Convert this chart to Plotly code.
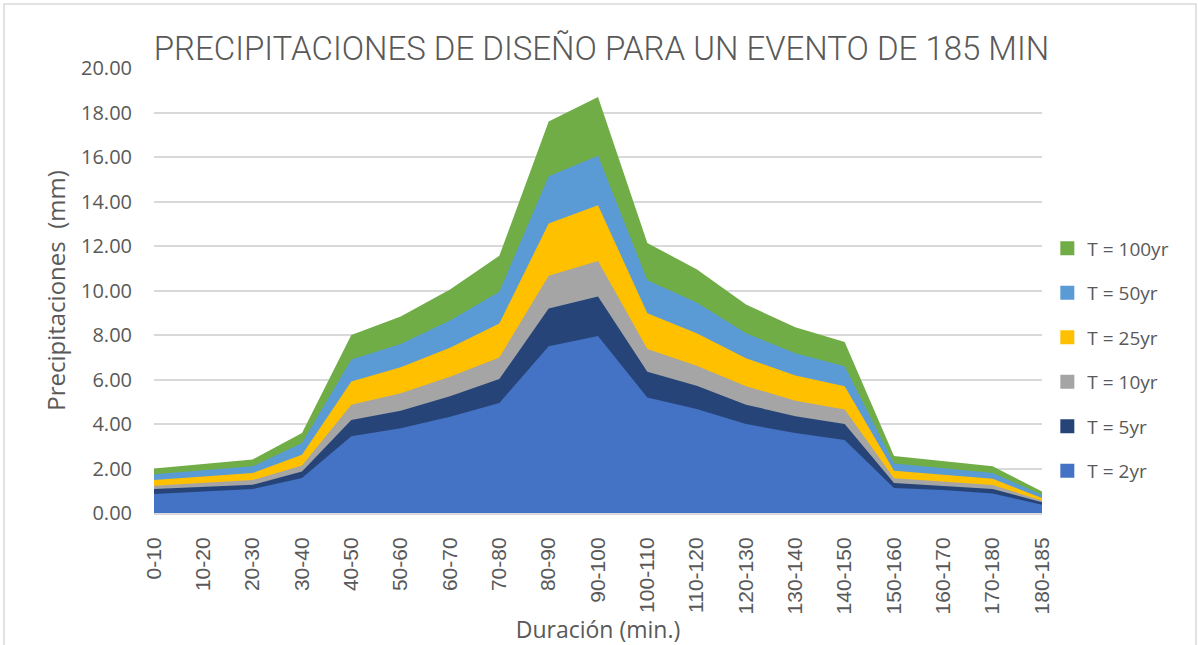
import plotly.graph_objects as go

categories = ["0-10", "10-20", "20-30", "30-40", "40-50", "50-60", "60-70", "70-80",
              "80-90", "90-100", "100-110", "110-120", "120-130", "130-140", "140-150",
              "150-160", "160-170", "170-180", "180-185"]

t2 = [0.85, 0.97, 1.08, 1.57, 3.45, 3.81, 4.33, 4.94, 7.49, 7.96, 5.19, 4.67, 4.00, 3.60, 3.28, 1.12, 1.03, 0.88, 0.37]
t5 = [1.08, 1.18, 1.27, 1.87, 4.18, 4.60, 5.25, 6.02, 9.19, 9.73, 6.35, 5.72, 4.87, 4.35, 4.00, 1.35, 1.21, 1.08, 0.48]
t10 = [1.23, 1.36, 1.48, 2.13, 4.87, 5.38, 6.12, 6.99, 10.66, 11.33, 7.37, 6.62, 5.70, 5.05, 4.65, 1.56, 1.41, 1.26, 0.55]
t25 = [1.48, 1.64, 1.80, 2.62, 5.91, 6.55, 7.43, 8.52, 13.01, 13.83, 8.98, 8.08, 6.96, 6.18, 5.70, 1.90, 1.72, 1.54, 0.67]
t50 = [1.74, 1.92, 2.10, 3.15, 6.90, 7.59, 8.65, 9.94, 15.13, 16.06, 10.46, 9.46, 8.08, 7.18, 6.60, 2.23, 2.02, 1.80, 0.81]
t100 = [2.00, 2.20, 2.41, 3.60, 8.00, 8.83, 10.05, 11.56, 17.59, 18.70, 12.13, 10.96, 9.37, 8.35, 7.68, 2.56, 2.32, 2.10, 0.97]

series_names = ["T = 100yr", "T = 50yr", "T = 25yr", "T = 10yr", "T = 5yr", "T = 2yr"]
series_values = [t100, t50, t25, t10, t5, t2]
series_colors = ["#70AD47", "#5B9BD5", "#FFC000", "#A5A5A5", "#264478", "#4472C4"]

y_ticks = [0, 2, 4, 6, 8, 10, 12, 14, 16, 18, 20]

TXT = "#595959"
L, R, T, B = 154, 156, 68, 132
PW, PH = 1198 - L - R, 645 - T - B
PB = 645 - B  # plot bottom pixel

fig = go.Figure()

for name, vals, col in zip(series_names, series_values, series_colors):
    fig.add_trace(go.Scatter(
        x=categories, y=vals, mode="lines", fill="tozeroy",
        fillcolor=col, line=dict(width=0, color=col),
        name=name, showlegend=False, hoverinfo="x+y+name"))

for name, col in zip(series_names, series_colors):
    fig.add_trace(go.Scatter(
        x=[None], y=[None], mode="markers",
        marker=dict(symbol="square", size=14, color=col),
        name=name, legendgroup=name, showlegend=True))

fig.update_layout(
    width=1198, height=645,
    margin=dict(l=L, r=R, t=T, b=B, autoexpand=False),
    paper_bgcolor="white", plot_bgcolor="white",
    title=dict(text="PRECIPITACIONES DE DISEÑO PARA UN EVENTO DE 185 MIN",
               x=0.502, xanchor="center", y=1 - 48 / 645, yanchor="middle",
               font=dict(family="Roboto", size=33, color=TXT, weight=300)),
    font=dict(family="Liberation Sans", color=TXT),
    xaxis=dict(
        type="category", range=[0, 18], automargin=False,
        tickangle=-90, tickfont=dict(family="Liberation Sans", size=21, color=TXT),
        showgrid=False, showline=True, linecolor="#D9D9D9", linewidth=2,
        ticks="", ticklabelstandoff=14,
        title=dict(text="Duración (min.)", font=dict(family="Open Sans", size=23, color=TXT), standoff=10),
    ),
    yaxis=dict(
        range=[0, 20], tickvals=y_ticks, tickformat=".2f", automargin=False,
        tickfont=dict(family="Open Sans", size=20, color=TXT),
        showgrid=True, gridcolor="#D9D9D9", gridwidth=2,
        zeroline=False, ticks="", ticklabelstandoff=21,
        title=dict(text="Precipitaciones  (mm)", font=dict(family="Open Sans", size=24, color=TXT), standoff=8),
    ),
    legend=dict(
        x=1.006, xanchor="left", y=(PB - 360) / PH, yanchor="middle",
        font=dict(family="Open Sans", size=19, color=TXT),
        tracegroupgap=16.8, traceorder="grouped",
        bgcolor="rgba(0,0,0,0)",
    ),
    shapes=[dict(type="rect", xref="paper", yref="paper",
                 x0=(4 - L) / PW, x1=(1196 - L) / PW,
                 y0=(PB - 660) / PH, y1=(PB - 4) / PH,
                 line=dict(color="#D9D9D9", width=1.5), fillcolor="rgba(0,0,0,0)", layer="below")],
)

fig.write_html("out.html", config={"displayModeBar": False},
               post_script="document.body.style.margin='0px';")
